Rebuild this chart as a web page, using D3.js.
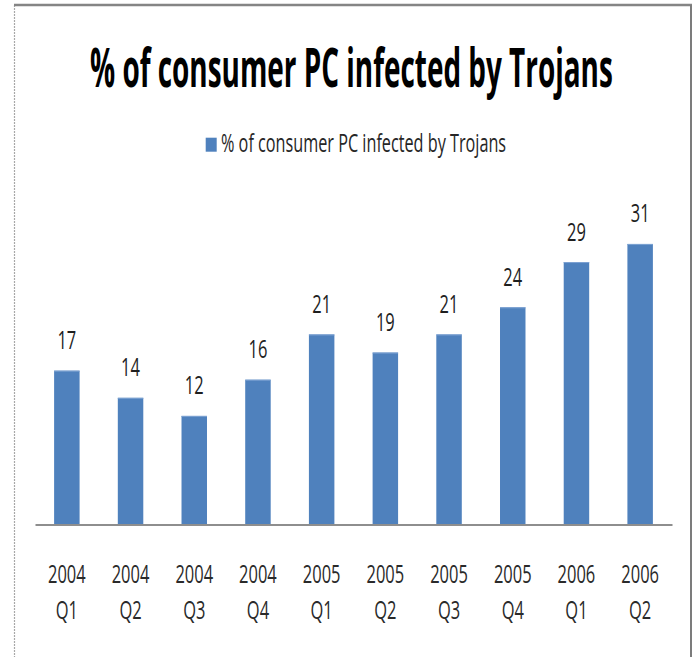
<!DOCTYPE html>
<html>
<head>
<meta charset="utf-8">
<script src="https://cdn.jsdelivr.net/npm/d3@7/dist/d3.min.js"></script>
<style>
  html, body { margin: 0; padding: 0; background: #ffffff; }
  svg { display: block; }
  text { font-family: "Open Sans", "Noto Sans", "Liberation Sans", sans-serif; }
</style>
</head>
<body>
<svg id="chart" width="699" height="657"></svg>
<script>
// Quarterly share of consumer PCs infected by Trojans
const years    = ["2004", "2004", "2004", "2004", "2005", "2005", "2005", "2005", "2006", "2006"];
const quarters = ["Q1", "Q2", "Q3", "Q4", "Q1", "Q2", "Q3", "Q4", "Q1", "Q2"];
const values   = [17, 14, 12, 16, 21, 19, 21, 24, 29, 31];
const seriesName = "% of consumer PC infected by Trojans";
const chartTitle = "% of consumer PC infected by Trojans";

const categories = years.map((y, i) => y + " " + quarters[i]);

const svg = d3.select("#chart");
const W = 699, H = 657;

// frame
const frame = { left: 14.5, top: 5, right: 691 };
svg.append("line")
  .attr("x1", frame.left).attr("x2", frame.left)
  .attr("y1", frame.top).attr("y2", H)
  .attr("stroke", "#a8a8a8").attr("stroke-width", 1.2)
  .attr("stroke-dasharray", "2,1");
svg.append("line")
  .attr("x1", frame.left - 0.5).attr("x2", frame.right + 1)
  .attr("y1", frame.top).attr("y2", frame.top)
  .attr("stroke", "#858585").attr("stroke-width", 2.5);
svg.append("line")
  .attr("x1", frame.right).attr("x2", frame.right)
  .attr("y1", frame.top).attr("y2", H)
  .attr("stroke", "#7c7c7c").attr("stroke-width", 2);

// plot area
const plot = { left: 35, right: 672, baseline: 524.5 };
const unit = 9.05;
const yMax = 35;

const x = d3.scaleBand()
  .domain(categories)
  .range([plot.left, plot.right])
  .paddingInner(0.6)
  .paddingOuter(0.3);

const y = d3.scaleLinear()
  .domain([0, yMax])
  .range([plot.baseline, plot.baseline - yMax * unit]);

// draws a text squeezed horizontally to a given width, anchored at its left edge
function narrowText(parent, str, x0, y0, size, width, weight, fill) {
  const t = parent.append("text")
    .attr("font-size", size)
    .attr("font-weight", weight)
    .attr("fill", fill)
    .text(str);
  const k = width / t.node().getComputedTextLength();
  t.attr("transform", `translate(${x0},${y0}) scale(${k},1)`);
  return t;
}

// horizontal compression used for the narrow label type
const smallSize = 25.2;
const probe = svg.append("text").attr("font-size", smallSize).text("2004");
const sx = 37.7 / probe.node().getComputedTextLength();
probe.remove();

// title
narrowText(svg, chartTitle, 90, 87, 53, 523, "bold", "#000000");

// legend
const legend = svg.append("g");
legend.append("rect")
  .attr("x", 205.7).attr("y", 137.7)
  .attr("width", 11).attr("height", 14)
  .attr("fill", "#4f81bd");
narrowText(legend, seriesName, 221, 152, smallSize, 285, "normal", "#262626");

// bars
const bars = svg.append("g");
bars.selectAll("rect.bar")
  .data(values)
  .join("rect")
  .attr("class", "bar")
  .attr("x", (d, i) => x(categories[i]))
  .attr("y", d => y(d))
  .attr("width", x.bandwidth())
  .attr("height", d => y(0) - y(d))
  .attr("fill", "#4f81bd");
bars.selectAll("line.edge")
  .data(values)
  .join("line")
  .attr("class", "edge")
  .attr("x1", (d, i) => x(categories[i]))
  .attr("x2", (d, i) => x(categories[i]) + x.bandwidth())
  .attr("y1", d => y(d) + 0.5)
  .attr("y2", d => y(d) + 0.5)
  .attr("stroke", "#7ea3d3")
  .attr("stroke-width", 1);

// value labels
svg.append("g").selectAll("text")
  .data(values)
  .join("text")
  .attr("transform", (d, i) =>
    `translate(${x(categories[i]) + x.bandwidth() / 2},${y(d) - 21.5}) scale(${sx},1)`)
  .attr("text-anchor", "middle")
  .attr("font-size", smallSize)
  .attr("fill", "#1e1e1e")
  .text(d => d);

// category axis
const axis = d3.axisBottom(x).tickSize(0).tickSizeOuter(0).tickFormat("");
const gx = svg.append("g")
  .attr("transform", `translate(0,${plot.baseline})`)
  .call(axis);
gx.select(".domain")
  .attr("stroke", "#8e8e8e")
  .attr("stroke-width", 1.8);
gx.selectAll(".tick text").remove();
gx.selectAll(".tick").each(function (c) {
  const i = categories.indexOf(c);
  const t = d3.select(this).append("text")
    .attr("text-anchor", "middle")
    .attr("font-size", smallSize)
    .attr("fill", "#2a2a2a")
    .attr("transform", `scale(${sx},1)`);
  t.append("tspan").attr("x", 0).attr("y", 58.5).text(years[i]);
  t.append("tspan").attr("x", 0).attr("y", 94.5).text(quarters[i]);
});
</script>
</body>
</html>
